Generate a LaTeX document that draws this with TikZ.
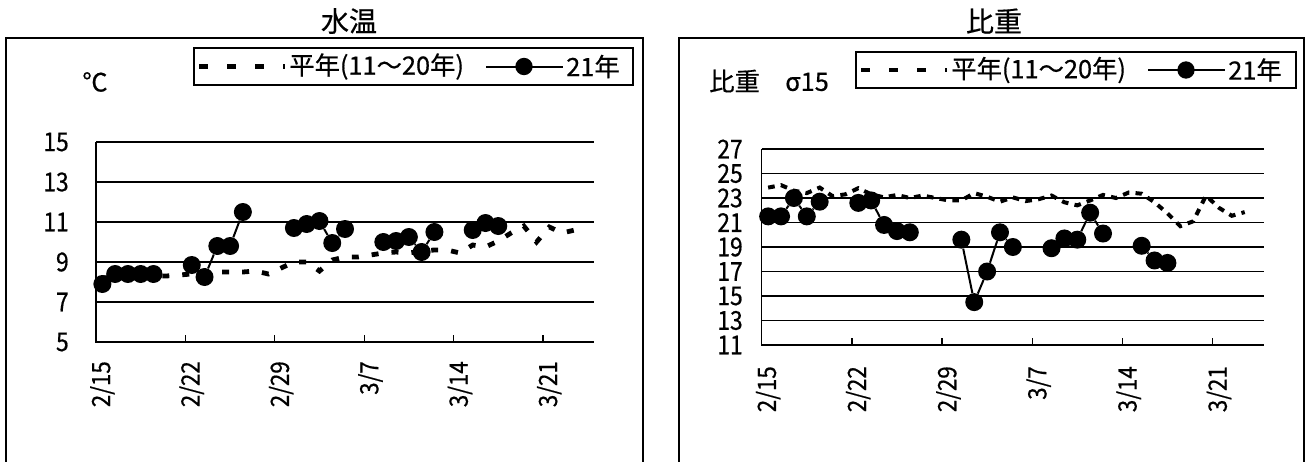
\documentclass[tikz,border=0pt]{standalone}
\usepackage{fontspec}
\setmainfont{Noto Sans CJK JP}[FakeBold=0.5]
\newfontfamily\numfont{Noto Sans CJK JP}[FakeStretch=0.88, FakeBold=0.5]
\begin{document}
\begin{tikzpicture}[x=0.75pt,y=-0.75pt,
	boxline/.style={line width=1pt},
	gridline/.style={line width=1pt},
	yrline/.style={line width=1.5pt},
	avgw/.style={line width=3.6pt, dash pattern=on 5.25pt off 9.75pt},
	avgs/.style={line width=3pt, dash pattern=on 5pt off 4.7pt},
	avgkey/.style={line width=3.6pt, dash pattern=on 6.5pt off 14.5pt},
	dot/.style={circle, fill=black, inner sep=0pt, minimum size=13.5pt},
	keydot/.style={circle, fill=black, inner sep=0pt, minimum size=13pt},
	title/.style={inner sep=0pt, font=\fontsize{21}{24}\selectfont},
	leg/.style={inner sep=0pt, anchor=west, font=\fontsize{19}{22}\selectfont},
	unit/.style={inner sep=0pt, font=\fontsize{19}{22}\selectfont},
	ylab/.style={inner sep=0pt, anchor=east, font=\numfont\fontsize{19.5}{22}\selectfont},
	xlab/.style={inner sep=0pt, anchor=east, rotate=90, font=\numfont\fontsize{19}{22}\selectfont}]
	\useasboundingbox (0,0) rectangle (1306,461);
	% frames and titles
	\draw[boxline] (6,470) -- (6,38) -- (643,38) -- (643,470);
	\draw[boxline] (679,470) -- (679,38) -- (1304,38) -- (1304,470);
	\node[title] (wtitle) at (349,21) {水温};
	\node[title] (stitle) at (994,21) {比重};
	\node[unit] (wunit) at (95,82) {℃};
	\node[unit, anchor=west] (sunit) at (709,81) {比重　σ15};
	% legends
	\draw[boxline] (194,48) rectangle (633,85);
	\draw[avgkey] (199,66.5) -- (285,66.5);
	\node[leg] (wkey1) at (289,66.5) {平年(11～20年)};
	\draw[yrline] (486,66.5) -- (563,66.5);
	\node[keydot] (wkey2) at (524,66.5) {};
	\node[leg] (wkey3) at (566,66.5) {21年};
	\draw[boxline] (856,52) rectangle (1296,88);
	\draw[avgkey] (861,70) -- (947,70);
	\node[leg] (skey1) at (951,70) {平年(11～20年)};
	\draw[yrline] (1148,70) -- (1225,70);
	\node[keydot] (skey2) at (1186,70) {};
	\node[leg] (skey3) at (1228,70) {21年};
	% axis labels
	\foreach \v in {5,7,...,15}
		\node[ylab] (wy\v) at (69,{342-(\v-5)*20}) {\v};
	\foreach \v in {11,13,...,27}
		\node[ylab] (sy\v) at (743,{345-(\v-11)*12.25}) {\v};
	\foreach \m/\d [count=\k from 0] in {2/15,2/22,2/29,3/7,3/14,3/21} {
		\node[xlab] (wx\k) at ({96+(7*\k+0.5)*12.77},361) {\m/\d};
		\node[xlab] (sx\k) at ({761.7+(7*\k+0.5)*12.88},366) {\m/\d};
	}
	% water temperature
	\begin{scope}[shift={(96,342)}, x=9.5775pt, y=15pt]
		\foreach \v in {2,4,...,10}
			\draw[gridline] (0,\v) -- (39,\v);
		\draw[gridline] (0,10) -- (0,0) -- (39,0);
		\foreach \k in {1,...,5}
			\draw[gridline] (7*\k,0) -- (7*\k,0.35);
		\foreach \v [count=\i from 0] in {8.2,8.25,8.3,8.3,8.3,8.3,8.35,8.4,8.45,8.5,8.5,8.5,8.55,8.4,8.7,9.0,9.0,8.55,9.1,9.25,9.25,9.35,9.45,9.5,9.45,9.55,9.6,9.6,9.45,9.85,9.75,10.05,10.45,10.8,10.0,10.75,10.45,10.6}
			\coordinate (wn\i) at (\i+0.5,\v-5);
		\draw[avgw] (wn0) \foreach \i in {1,...,37} {-- (wn\i)};
		\foreach \i/\v in {0/7.9,1/8.4,2/8.4,3/8.4,4/8.4,7/8.85,8/8.25,9/9.8,10/9.8,11/11.5,15/10.7,16/10.9,17/11.05,18/9.95,19/10.65,22/10.0,23/10.05,24/10.25,25/9.5,26/10.5,29/10.6,30/10.95,31/10.8}
			\node[dot] (wt\i) at (\i+0.5,\v-5) {};
		\foreach \i/\j in {0/1,1/2,2/3,3/4,7/8,8/9,9/10,10/11,15/16,16/17,17/18,18/19,22/23,23/24,24/25,25/26,29/30,30/31}
			\draw[yrline] (wt\i) -- (wt\j);
	\end{scope}
	% specific gravity
	\begin{scope}[shift={(761.7,345)}, x=9.66pt, y=9.1875pt]
		\foreach \v in {2,4,...,16}
			\draw[gridline] (0,\v) -- (39,\v);
		\draw[gridline] (0,16) -- (0,0) -- (39,0);
		\foreach \k in {1,...,5}
			\draw[gridline] (7*\k,0) -- (7*\k,0.57);
		\foreach \v [count=\i from 0] in {23.85,24.05,23.6,23.4,23.85,23.15,23.3,23.8,23.3,23.05,23.25,23.0,23.2,23.0,22.8,22.8,23.4,23.1,22.7,23.05,22.75,22.9,23.2,22.65,22.4,22.8,23.25,23.0,23.45,23.35,22.65,21.75,20.7,21.1,23.2,22.2,21.55,21.85}
			\coordinate (sn\i) at (\i+0.5,\v-11);
		\draw[avgs] (sn0) \foreach \i in {1,...,37} {-- (sn\i)};
		\foreach \i/\v in {0/21.5,1/21.5,2/23.0,3/21.5,4/22.7,7/22.6,8/22.8,9/20.8,10/20.3,11/20.2,15/19.6,16/14.5,17/17.0,18/20.2,19/19.0,22/18.9,23/19.7,24/19.6,25/21.8,26/20.1,29/19.1,30/17.9,31/17.7}
			\node[dot] (sg\i) at (\i+0.5,\v-11) {};
		\foreach \i/\j in {0/1,1/2,2/3,3/4,7/8,8/9,9/10,10/11,15/16,16/17,17/18,18/19,22/23,23/24,24/25,25/26,29/30,30/31}
			\draw[yrline] (sg\i) -- (sg\j);
	\end{scope}
\end{tikzpicture}
\end{document}
